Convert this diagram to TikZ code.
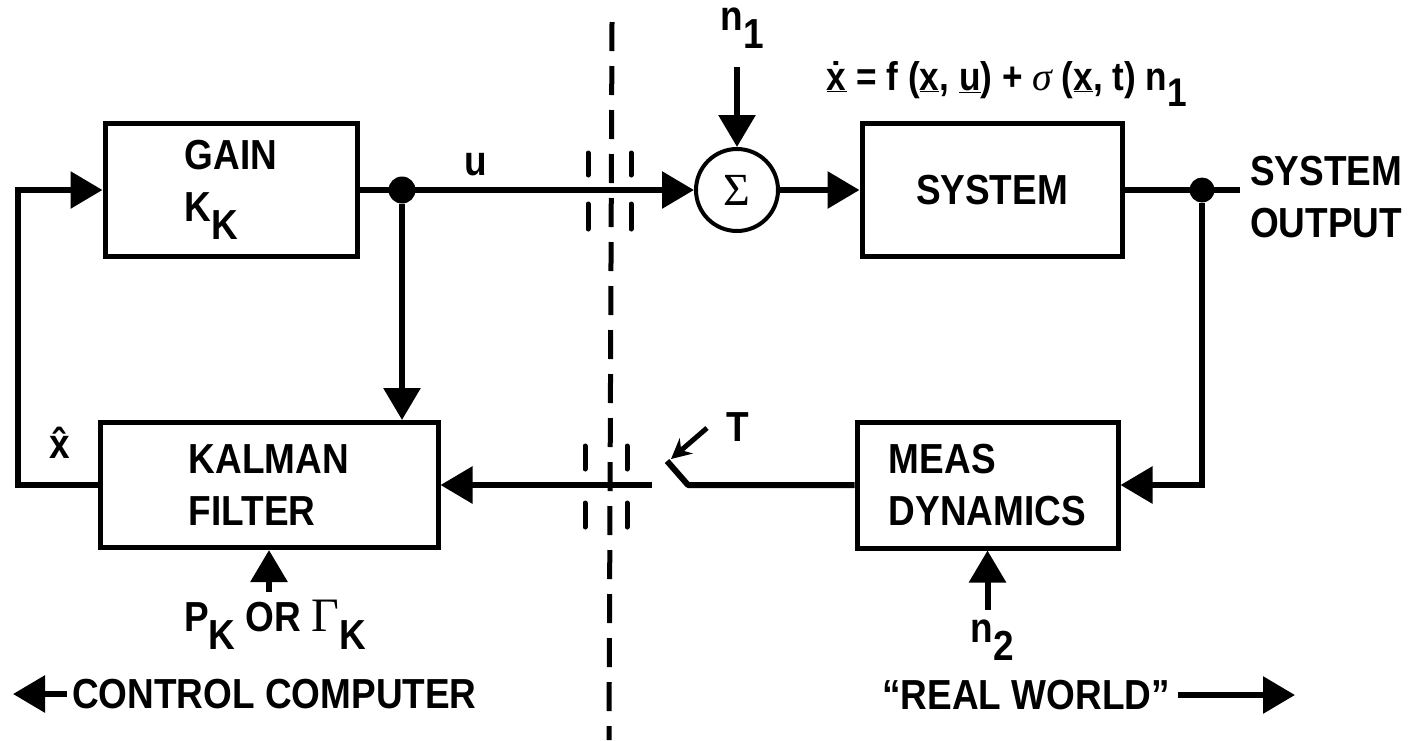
\documentclass[tikz,border=0pt]{standalone}
\usepackage{fontspec}
\setmainfont{Liberation Sans}[FakeStretch=0.88]
\newfontfamily\ser{Liberation Serif}
\usetikzlibrary{arrows.meta}
\newcommand\Lab{\fontsize{42}{52}\selectfont\bfseries}
\newcommand\Eqf{\fontsize{40}{44}\selectfont\bfseries}
\newcommand\lowr[1]{\raisebox{-0.42em}{#1}}
\begin{document}
\begin{tikzpicture}[x=1pt,y=-1pt,
  box/.style={draw, line width=5pt, inner sep=0pt, font=\Lab, align=left},
  conn/.style={line width=6pt},
  tick/.style={line width=5pt, line cap=round},
  lbl/.style={font=\Lab, inner sep=0pt},
  jdot/.style={circle, fill, inner sep=0pt},
  >={Triangle[length=32pt,width=36pt]}]
\useasboundingbox (0,0) rectangle (1410,740);
% blocks
\node[box, minimum width=252pt, minimum height=133pt] (gain) at (231,190) {GAIN\\K\lowr{K}};
\node[box, minimum width=260pt, minimum height=133pt] (sys) at (992,190) {SYSTEM};
\node[box, minimum width=338pt, minimum height=125pt] (kal) at (269,485) {KALMAN\\FILTER};
\node[box, minimum width=261pt, minimum height=126pt] (meas) at (987.5,485) {MEAS\\DYNAMICS};
\node[circle, draw, line width=4pt, minimum size=82pt, inner sep=0pt, font=\fontsize{46}{48}\selectfont\ser] (sum) at (737,190) {Σ};
\node[jdot, minimum size=27pt] (dotL) at (402,190) {};
\node[jdot, minimum size=25pt] (dotR) at (1202,190) {};
% labels
\node[lbl] (u) at (476,165) {u};
\node[lbl] (n1) at (742,28) {n\lowr{1}};
\node[font=\Eqf, inner sep=0pt] (eq) at (1007,84) {\underline{\.x} = f (\underline{x}, \underline{u}) + {\ser\itshape\mdseries σ} (\underline{x}, t) n\lowr{1}};
\node[lbl] (xhat) at (60,443) {\^x};
\node[lbl] (T) at (738,427) {T};
\node[lbl] (pk) at (275,625) {P\lowr{K} OR {\ser\mdseries\fontsize{48}{50}\selectfont Γ}\lowr{K}};
\node[lbl] (n2) at (992,640) {n\lowr{2}};
\node[lbl, align=left, anchor=west] (out) at (1250,197) {SYSTEM\\OUTPUT};
\node[font=\Lab, inner sep=5pt, anchor=west] (ctrl) at (67,694) {CONTROL COMPUTER};
\node[font=\Lab, inner sep=8pt, anchor=east] (real) at (1178,695) {“REAL WORLD”};
% helper coordinates
\coordinate (n1top) at (737,67);
\coordinate (fbx) at (18,300);
\coordinate (brk) at (652,485);
\coordinate (sw1) at (688,485);
\coordinate (sw2) at (667,461);
\coordinate (Tst) at (707,428);
\coordinate (Ten) at (671,459);
\coordinate (outEnd) at (1240,190);
\coordinate (pkS) at (269,592);
\coordinate (n2S) at (987.5,610);
\coordinate (ctrlTip) at (13,692);
\coordinate (realTip) at (1295,700);
\coordinate (dtop) at (612,22);
\coordinate (dbot) at (609,740);
% connectors
\draw[conn,->] (gain.east) -- (sum.west);
\draw[conn,->] (dotL) -- (dotL |- kal.north);
\draw[conn,->] (n1top) -- (sum.north);
\draw[conn,->] (sum.east) -- (sys.west);
\draw[conn] (sys.east) -- (outEnd);
\draw[conn,->] (dotR) |- (meas.east);
\draw[conn,line join=round] (meas.west) -- (sw1) -- (sw2);
\draw[conn,->] (brk) -- (kal.east);
\draw[conn,->] (kal.west) -| (fbx) |- (gain.west);
\draw[conn,->] (pkS) -- (kal.south);
\draw[conn,->] (n2S) -- (meas.south);
\draw[line width=5pt,-{Stealth[length=20pt,width=20pt]}] (Tst) -- (Ten);
\draw[conn,->] (ctrl.west) -- (ctrl.west -| ctrlTip);
\draw[conn,->] (real.east) -- (real.east -| realTip);
% boundary
\draw[line width=5pt, dash pattern=on 29pt off 15pt] (dtop) -- (dbot);
\foreach \xx in {588,631}{
  \draw[tick] (\xx,153) -- (\xx,175);
  \draw[tick] (\xx,204) -- (\xx,229);}
\foreach \xx in {585,627}{
  \draw[tick] (\xx,446) -- (\xx,469);
  \draw[tick] (\xx,503) -- (\xx,527);}
\end{tikzpicture}
\end{document}
